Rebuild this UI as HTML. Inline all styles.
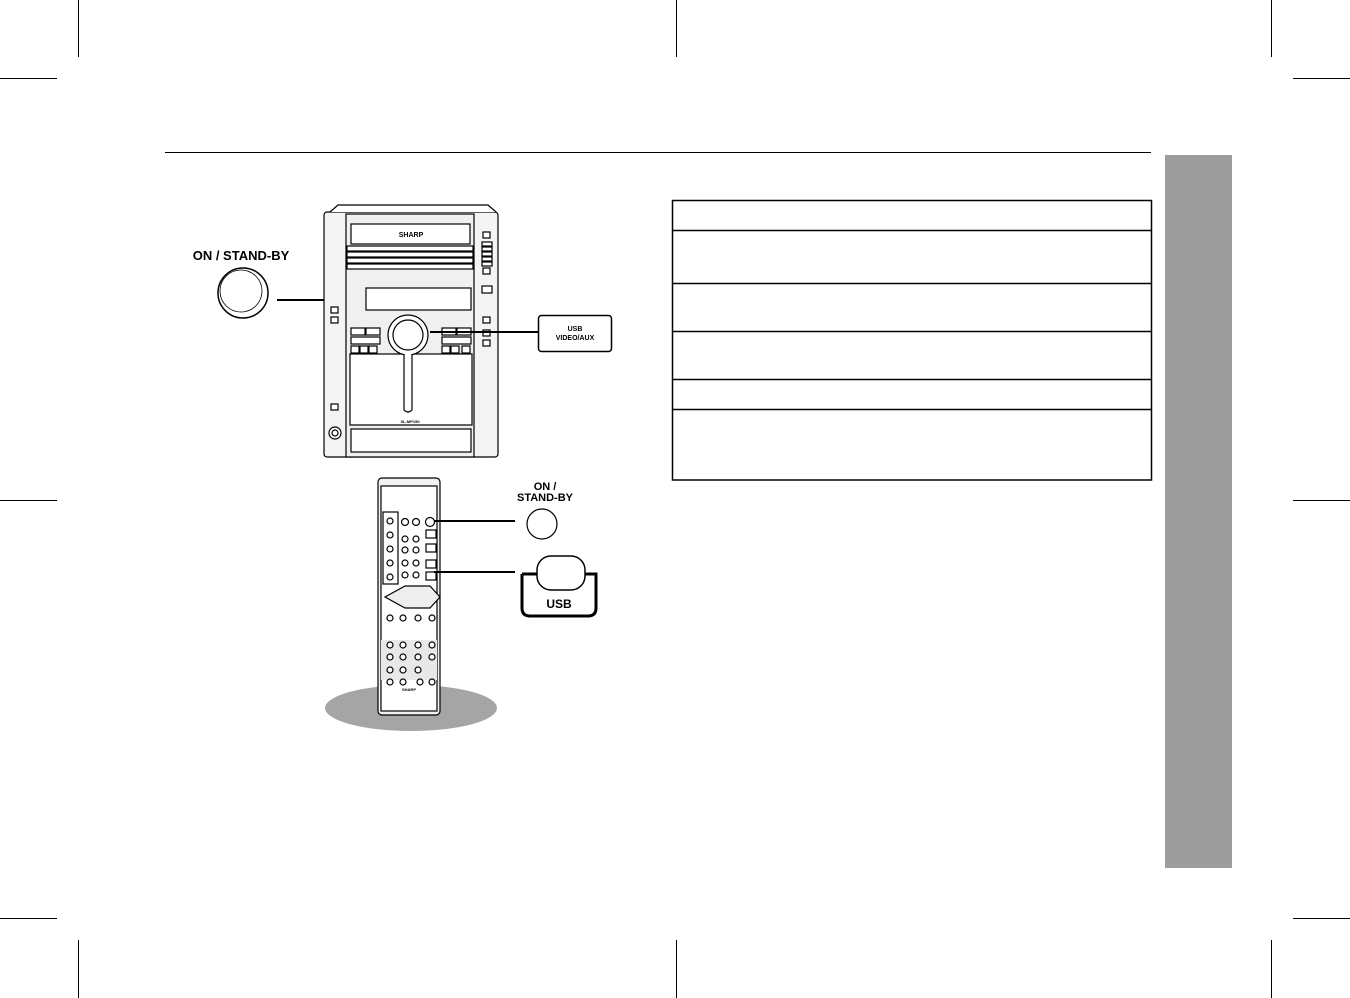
<!DOCTYPE html>
<html><head><meta charset="utf-8"><style>
html,body{margin:0;padding:0;background:#fff;}
svg{display:block;}
text{font-family:"Liberation Sans",sans-serif;font-weight:bold;}
</style></head><body>
<svg width="1350" height="998" viewBox="0 0 1350 998" xmlns="http://www.w3.org/2000/svg">
<g stroke="#000" stroke-width="1" fill="none">
<!-- crop marks -->
<line x1="78.5" y1="0" x2="78.5" y2="57"/><line x1="676.5" y1="0" x2="676.5" y2="57"/><line x1="1271.5" y1="0" x2="1271.5" y2="57"/>
<line x1="0" y1="78.5" x2="57" y2="78.5"/><line x1="1293" y1="78.5" x2="1350" y2="78.5"/>
<line x1="0" y1="500.5" x2="57" y2="500.5"/><line x1="1293" y1="500.5" x2="1350" y2="500.5"/>
<line x1="0" y1="918.5" x2="57" y2="918.5"/><line x1="1293" y1="918.5" x2="1350" y2="918.5"/>
<line x1="78.5" y1="940" x2="78.5" y2="998"/><line x1="676.5" y1="940" x2="676.5" y2="998"/><line x1="1271.5" y1="940" x2="1271.5" y2="998"/>
<line x1="165" y1="152.5" x2="1151" y2="152.5"/>
</g>
<rect x="1165" y="155" width="67" height="713" fill="#9d9d9d"/>
<!-- table -->
<g stroke="#000" stroke-width="1.5" fill="none">
<rect x="672.5" y="200.5" width="479" height="279.5"/>
<line x1="672" y1="230.5" x2="1152" y2="230.5"/>
<line x1="672" y1="283.5" x2="1152" y2="283.5"/>
<line x1="672" y1="331.5" x2="1152" y2="331.5"/>
<line x1="672" y1="379.5" x2="1152" y2="379.5"/>
<line x1="672" y1="409.5" x2="1152" y2="409.5"/>
</g>
<!-- ON/STAND-BY main -->
<text x="241" y="260" font-size="13" text-anchor="middle" font-weight="normal">ON / STAND-BY</text>
<circle cx="243" cy="293" r="25" fill="#fff" stroke="#000" stroke-width="1.5"/>
<circle cx="241" cy="291" r="21" fill="none" stroke="#000" stroke-width="0.8"/>
<line x1="277" y1="300" x2="335" y2="300" stroke="#000" stroke-width="2"/>
<!-- stereo -->
<g stroke="#000" fill="#fff" stroke-width="1.2">
<rect x="324" y="212" width="174" height="245" rx="3" fill="#f4f4f4"/>
<path d="M330 212 L338 205 L488 205 L496 212" fill="#fff"/>
<rect x="346" y="214" width="128" height="243" fill="#f0f0f0"/>
<rect x="351" y="224" width="119" height="20" fill="#fff"/>
<rect x="347" y="246" width="126" height="5"/><rect x="347" y="252" width="126" height="5"/><rect x="347" y="258" width="126" height="5"/><rect x="347" y="264" width="126" height="5"/>
<rect x="366" y="288" width="105" height="22" fill="#fff"/>
<rect x="350" y="354" width="122" height="71" fill="#fff"/>
<rect x="351" y="429" width="120" height="23" fill="#fff"/>
<circle cx="408" cy="335" r="20" fill="#fff"/><circle cx="408" cy="335" r="15"/>
<path d="M404 354 L404 410 Q408 414 412 410 L412 354" fill="#fff"/>
<rect x="351" y="328" width="14" height="7"/><rect x="366" y="328" width="14" height="7"/>
<rect x="351" y="337" width="29" height="7"/>
<rect x="351" y="346" width="8" height="7"/><rect x="360" y="346" width="8" height="7"/><rect x="369" y="346" width="8" height="7"/>
<rect x="442" y="328" width="14" height="7"/><rect x="457" y="328" width="14" height="7"/>
<rect x="442" y="337" width="29" height="7"/>
<rect x="442" y="346" width="8" height="7"/><rect x="451" y="346" width="8" height="7"/><rect x="462" y="346" width="8" height="7"/>
<rect x="483" y="232" width="7" height="6"/><rect x="482" y="242" width="10" height="4"/><rect x="482" y="247" width="10" height="4"/><rect x="482" y="252" width="10" height="4"/><rect x="482" y="257" width="10" height="4"/><rect x="482" y="262" width="10" height="4"/>
<rect x="483" y="268" width="7" height="6"/><rect x="482" y="286" width="10" height="7"/>
<rect x="483" y="317" width="7" height="6"/><rect x="483" y="330" width="7" height="6"/><rect x="483" y="340" width="7" height="6"/>
<rect x="331" y="307" width="7" height="6"/><rect x="331" y="317" width="7" height="6"/><rect x="331" y="404" width="7" height="6"/>
<circle cx="335" cy="433" r="6"/><circle cx="335" cy="433" r="3"/>
</g>
<text x="411" y="237" font-size="7" text-anchor="middle">SHARP</text>
<text x="410" y="423" font-size="4" text-anchor="middle">XL-MP150</text>
<line x1="430" y1="332" x2="540" y2="332" stroke="#000" stroke-width="2"/>
<rect x="538.5" y="315.5" width="73" height="36" rx="3" fill="#fff" stroke="#000" stroke-width="1.5"/>
<text x="575" y="331" font-size="7" text-anchor="middle">USB</text>
<text x="575" y="340" font-size="7" text-anchor="middle">VIDEO/AUX</text>
<!-- remote -->
<ellipse cx="411" cy="708" rx="86" ry="23" fill="#a5a5a5"/>
<g stroke="#000" stroke-width="1.2" fill="#fff">
<rect x="378" y="478" width="62" height="237" rx="4" fill="#f2f2f2"/>
<rect x="381" y="486" width="56" height="225" fill="#fff"/>
<rect x="383" y="512" width="15" height="72" fill="#fff"/>
<path d="M385 597 L405 586 L430 586 L440 597 L430 608 L405 608 Z" fill="#eee"/>
<rect x="381" y="640" width="56" height="40" fill="#e8e8e8" stroke="none"/>
<circle cx="390" cy="521" r="3"/><circle cx="390" cy="535" r="3"/><circle cx="390" cy="549" r="3"/><circle cx="390" cy="563" r="3"/><circle cx="390" cy="577" r="3"/>
<circle cx="405" cy="522" r="3.5"/><circle cx="416" cy="522" r="3.5"/><circle cx="430" cy="522" r="4.5"/>
<circle cx="405" cy="539" r="3"/><circle cx="416" cy="539" r="3"/><circle cx="405" cy="550" r="3"/><circle cx="416" cy="550" r="3"/>
<circle cx="405" cy="563" r="3"/><circle cx="416" cy="563" r="3"/><circle cx="405" cy="575" r="3"/><circle cx="416" cy="575" r="3"/>
<rect x="426" y="530" width="10" height="8"/><rect x="426" y="544" width="10" height="8"/><rect x="426" y="560" width="10" height="8"/><rect x="426" y="572" width="10" height="8"/>
<circle cx="390" cy="618" r="3"/><circle cx="403" cy="618" r="3"/><circle cx="418" cy="618" r="3"/><circle cx="432" cy="618" r="3"/>
<circle cx="390" cy="645" r="3"/><circle cx="403" cy="645" r="3"/><circle cx="418" cy="645" r="3"/><circle cx="432" cy="645" r="3"/>
<circle cx="390" cy="657" r="3"/><circle cx="403" cy="657" r="3"/><circle cx="418" cy="657" r="3"/><circle cx="432" cy="657" r="3"/>
<circle cx="390" cy="670" r="3"/><circle cx="403" cy="670" r="3"/><circle cx="418" cy="670" r="3"/>
<circle cx="390" cy="682" r="3"/><circle cx="403" cy="682" r="3"/><circle cx="420" cy="682" r="3"/><circle cx="432" cy="682" r="3"/>
</g>
<text x="409" y="691" font-size="4" text-anchor="middle">SHARP</text>
<line x1="434" y1="521" x2="515" y2="521" stroke="#000" stroke-width="2"/>
<line x1="434" y1="572" x2="515" y2="572" stroke="#000" stroke-width="2"/>
<text x="545" y="490" font-size="11" text-anchor="middle">ON /</text>
<text x="545" y="501" font-size="11" text-anchor="middle">STAND-BY</text>
<circle cx="542" cy="524" r="15" fill="#fff" stroke="#000" stroke-width="1.2"/>
<path d="M522 574 L522 608 Q522 616 530 616 L588 616 Q596 616 596 608 L596 574 L585 574" fill="none" stroke="#000" stroke-width="3"/>
<path d="M522 574 L537 574" fill="none" stroke="#000" stroke-width="3"/>
<rect x="537" y="556" width="48" height="34" rx="14" fill="#fff" stroke="#000" stroke-width="1.5"/>
<text x="559" y="608" font-size="12" text-anchor="middle">USB</text>
</svg>
</body></html>
